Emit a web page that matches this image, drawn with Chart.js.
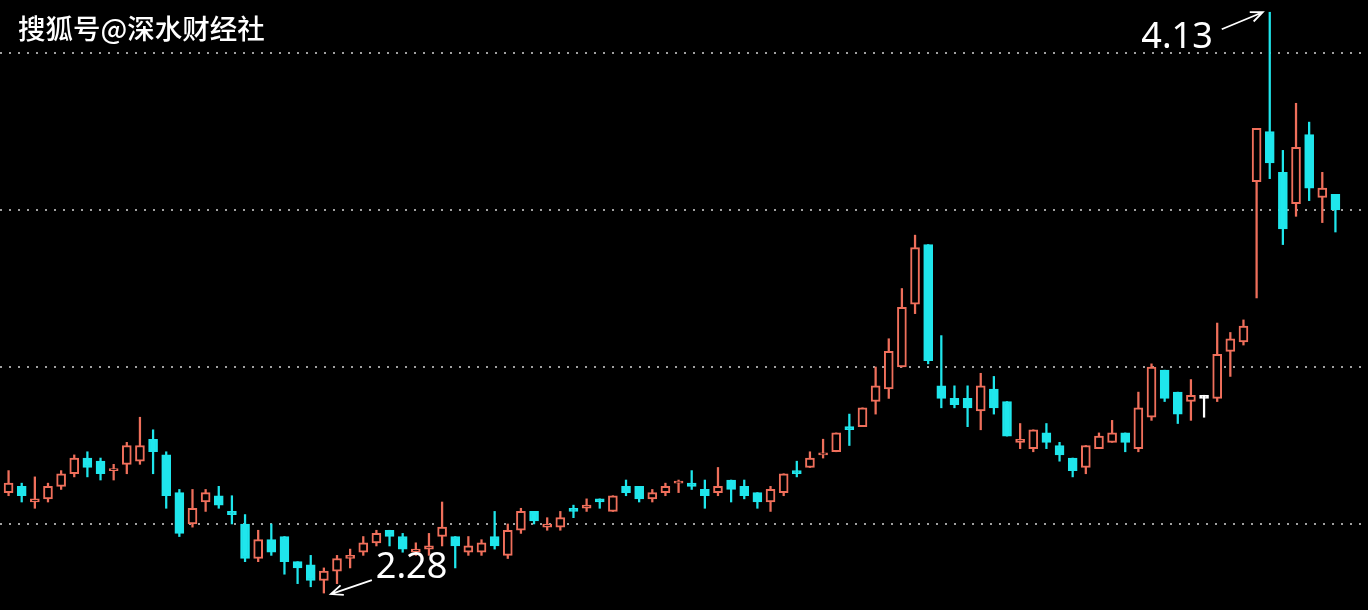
<!DOCTYPE html>
<html>
<head>
<meta charset="utf-8">
<script src="https://cdn.jsdelivr.net/npm/chart.js@4.4.1/dist/chart.umd.min.js"></script>
<style>
  html, body { margin: 0; background: #000; }
  #wrap { position: relative; width: 1368px; height: 610px; }
  .brand { position: absolute; left: 18px; top: 7px; color: #fff; font: 500 27.5px "Noto Sans CJK SC", sans-serif; text-shadow: 1px 1px 2px #000; }
</style>
</head>
<body>
<div id="wrap">
  <canvas id="kChart"></canvas>
  <div class="brand">搜狐号@深水财经社</div>
</div>
<script>
// daily prices
const opens = [2.60, 2.62, 2.57, 2.58, 2.62, 2.66, 2.71, 2.70, 2.67, 2.69, 2.70, 2.77, 2.72, 2.60, 2.50, 2.57, 2.59, 2.54, 2.50, 2.39,
  2.45, 2.46, 2.38, 2.37, 2.32, 2.35, 2.39, 2.41, 2.44, 2.48, 2.46, 2.41, 2.42, 2.46, 2.46, 2.41, 2.41, 2.46, 2.40, 2.48,
  2.54, 2.49, 2.49, 2.55, 2.55, 2.58, 2.54, 2.62, 2.62, 2.58, 2.60, 2.63, 2.63, 2.61, 2.60, 2.64, 2.62, 2.60, 2.57, 2.60,
  2.67, 2.68, 2.72, 2.73, 2.81, 2.81, 2.89, 2.93, 3.00, 3.20, 3.39, 2.94, 2.90, 2.90, 2.86, 2.93, 2.89, 2.76, 2.74, 2.79,
  2.75, 2.71, 2.68, 2.74, 2.76, 2.79, 2.74, 2.84, 2.99, 2.92, 2.89, 2.91, 2.90, 3.05, 3.08, 3.59, 3.75, 3.62, 3.52, 3.74,
  3.54, 3.55];
const highs = [2.67, 2.63, 2.65, 2.63, 2.67, 2.72, 2.73, 2.71, 2.69, 2.76, 2.84, 2.80, 2.73, 2.61, 2.61, 2.61, 2.62, 2.59, 2.53, 2.48,
  2.50, 2.46, 2.38, 2.40, 2.36, 2.40, 2.42, 2.46, 2.48, 2.48, 2.47, 2.44, 2.47, 2.57, 2.46, 2.46, 2.45, 2.54, 2.50, 2.55,
  2.54, 2.52, 2.54, 2.56, 2.58, 2.58, 2.59, 2.64, 2.62, 2.61, 2.63, 2.64, 2.67, 2.64, 2.68, 2.64, 2.64, 2.60, 2.62, 2.66,
  2.70, 2.73, 2.77, 2.79, 2.85, 2.87, 3.00, 3.09, 3.25, 3.42, 3.39, 3.10, 2.94, 2.94, 2.98, 2.97, 2.89, 2.82, 2.80, 2.82,
  2.76, 2.71, 2.75, 2.79, 2.83, 2.79, 2.92, 3.01, 2.99, 2.92, 2.96, 2.91, 3.14, 3.11, 3.15, 3.76, 4.13, 3.69, 3.84, 3.78,
  3.62, 3.55];
const lows = [2.59, 2.57, 2.55, 2.57, 2.61, 2.65, 2.65, 2.64, 2.64, 2.66, 2.69, 2.66, 2.55, 2.46, 2.49, 2.54, 2.55, 2.50, 2.38, 2.38,
  2.40, 2.34, 2.31, 2.30, 2.28, 2.31, 2.36, 2.40, 2.43, 2.43, 2.41, 2.40, 2.40, 2.43, 2.36, 2.40, 2.40, 2.42, 2.39, 2.47,
  2.50, 2.48, 2.48, 2.52, 2.54, 2.55, 2.54, 2.59, 2.57, 2.57, 2.59, 2.60, 2.61, 2.55, 2.59, 2.57, 2.58, 2.55, 2.54, 2.59,
  2.65, 2.68, 2.71, 2.73, 2.75, 2.81, 2.85, 2.90, 3.00, 3.17, 3.01, 2.87, 2.87, 2.81, 2.80, 2.85, 2.78, 2.74, 2.73, 2.74,
  2.70, 2.65, 2.66, 2.74, 2.76, 2.73, 2.73, 2.83, 2.89, 2.82, 2.83, 2.84, 2.89, 2.97, 3.07, 3.22, 3.60, 3.39, 3.48, 3.53,
  3.46, 3.43];
const closes = [2.63, 2.59, 2.58, 2.62, 2.66, 2.71, 2.68, 2.66, 2.67, 2.75, 2.75, 2.73, 2.59, 2.47, 2.55, 2.60, 2.56, 2.53, 2.39, 2.45,
  2.41, 2.38, 2.36, 2.32, 2.35, 2.39, 2.40, 2.44, 2.47, 2.46, 2.42, 2.42, 2.43, 2.49, 2.43, 2.43, 2.44, 2.43, 2.48, 2.54,
  2.51, 2.50, 2.52, 2.54, 2.56, 2.57, 2.59, 2.60, 2.58, 2.60, 2.62, 2.63, 2.62, 2.59, 2.62, 2.61, 2.59, 2.57, 2.61, 2.66,
  2.66, 2.71, 2.72, 2.79, 2.80, 2.87, 2.94, 3.05, 3.19, 3.38, 3.02, 2.90, 2.88, 2.87, 2.94, 2.87, 2.78, 2.77, 2.80, 2.76,
  2.72, 2.67, 2.75, 2.78, 2.79, 2.76, 2.87, 3.00, 2.90, 2.85, 2.91, 2.90, 3.04, 3.09, 3.13, 3.76, 3.65, 3.44, 3.70, 3.57,
  3.57, 3.50];
const gridValues = [2.5, 3.0, 3.5, 4.0];
const markedDay = 92; // the white "T" candle

const days = opens.map((o, i) => 'D' + (i + 1));

const upColor = '#ef6f5b';
const downColor = '#1fe6ec';

const lineColors = opens.map((o, i) => {
  if (i === markedDay - 1) return '#ffffff';
  return closes[i] >= o ? upColor : downColor;
});
const bodyFill = opens.map((o, i) => {
  if (i === markedDay - 1) return '#ffffff';
  return closes[i] >= o ? '#000000' : downColor;
});

const dotGrid = {
  id: 'dotGrid',
  beforeDatasetsDraw(chart) {
    const { ctx, width, scales: { y } } = chart;
    ctx.save();
    ctx.strokeStyle = '#a0a0a0';
    ctx.lineWidth = 2;
    ctx.setLineDash([2, 7]);
    gridValues.forEach(v => {
      const py = Math.round(y.getPixelForValue(v));
      ctx.beginPath();
      ctx.moveTo(0, py);
      ctx.lineTo(width, py);
      ctx.stroke();
    });
    ctx.restore();
  }
};

function arrow(ctx, x0, y0, x1, y1) {
  const a = Math.atan2(y1 - y0, x1 - x0);
  ctx.beginPath();
  ctx.moveTo(x0, y0);
  ctx.lineTo(x1, y1);
  ctx.moveTo(x1 - 13 * Math.cos(a - 0.4), y1 - 13 * Math.sin(a - 0.4));
  ctx.lineTo(x1, y1);
  ctx.lineTo(x1 - 13 * Math.cos(a + 0.4), y1 - 13 * Math.sin(a + 0.4));
  ctx.stroke();
}

const extremes = {
  id: 'extremes',
  afterDatasetsDraw(chart) {
    const { ctx, scales: { x, y } } = chart;
    const hiIdx = highs.indexOf(Math.max(...highs));
    const loIdx = lows.indexOf(Math.min(...lows));
    ctx.save();
    ctx.strokeStyle = '#ffffff';
    ctx.fillStyle = '#ffffff';
    ctx.lineWidth = 1.8;
    ctx.font = '36px "Noto Sans", sans-serif';

    let tx = x.getPixelForValue(hiIdx) - 7;
    let ty = y.getPixelForValue(highs[hiIdx]);
    arrow(ctx, tx - 41, ty + 17, tx, ty);
    ctx.textAlign = 'right';
    ctx.fillText(highs[hiIdx].toFixed(2), tx - 50, ty + 36);

    tx = x.getPixelForValue(loIdx) + 7;
    ty = y.getPixelForValue(lows[loIdx]) + 1;
    arrow(ctx, tx + 41, ty - 14, tx, ty);
    ctx.textAlign = 'left';
    ctx.fillText(lows[loIdx].toFixed(2), tx + 45, ty - 16);
    ctx.restore();
  }
};

new Chart(document.getElementById('kChart'), {
  type: 'bar',
  data: {
    labels: days,
    datasets: [
      {
        label: 'body',
        data: opens.map((o, i) => [o, closes[i]]),
        backgroundColor: bodyFill,
        borderColor: lineColors,
        borderWidth: 2,
        borderSkipped: false,
        barThickness: 9,
        minBarLength: 2,
        grouped: false,
        order: 0
      },
      {
        label: 'wick',
        data: lows.map((l, i) => [l, highs[i]]),
        backgroundColor: lineColors,
        barThickness: 1.6,
        grouped: false,
        order: 1
      }
    ]
  },
  options: {
    responsive: true,
    maintainAspectRatio: false,
    animation: false,
    layout: { padding: { left: 2, right: 26, top: 0, bottom: 0 } },
    plugins: { legend: { display: false }, tooltip: { enabled: false } },
    scales: {
      x: { display: false },
      y: { display: false, min: 2.226, max: 4.169, bounds: 'data' }
    }
  },
  plugins: [dotGrid, extremes]
});
</script>
</body>
</html>
